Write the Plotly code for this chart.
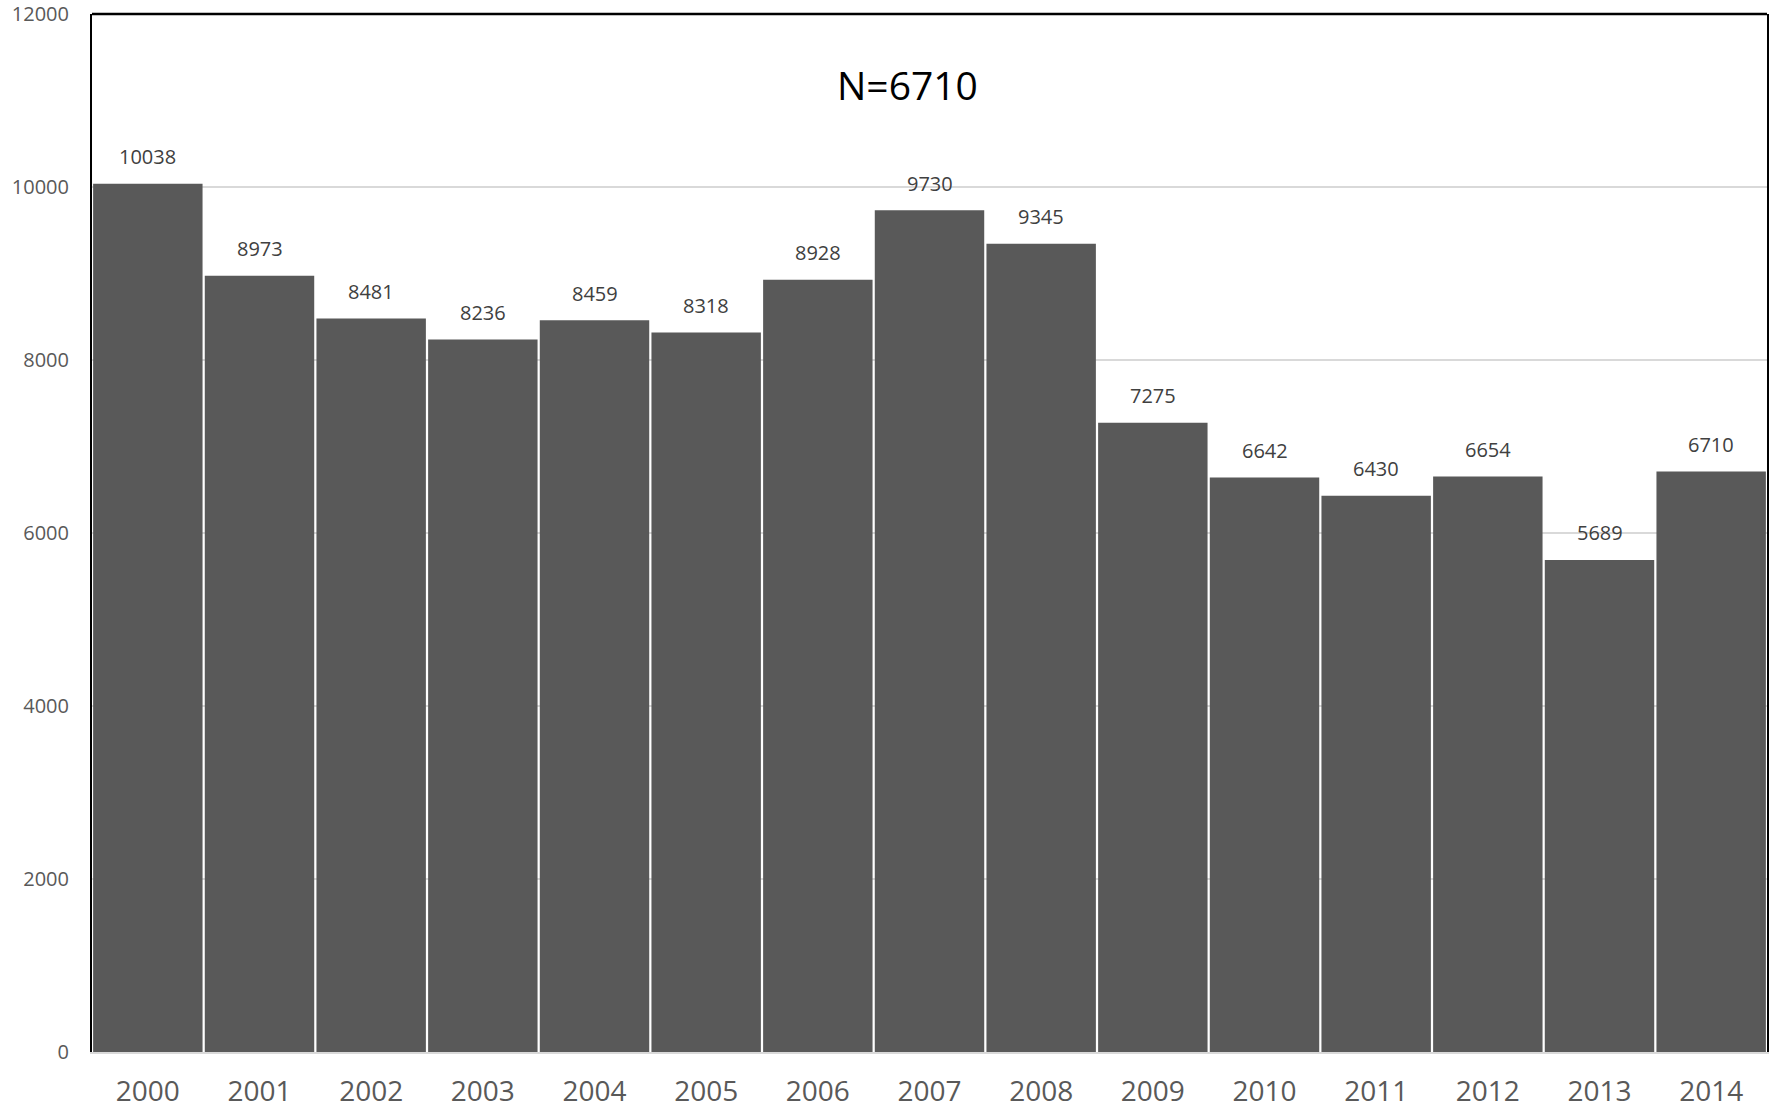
import plotly.graph_objects as go

years = ["2000", "2001", "2002", "2003", "2004", "2005", "2006", "2007",
         "2008", "2009", "2010", "2011", "2012", "2013", "2014"]
counts = [10038, 8973, 8481, 8236, 8459, 8318, 8928, 9730,
          9345, 7275, 6642, 6430, 6654, 5689, 6710]
y_ticks = [0, 2000, 4000, 6000, 8000, 10000, 12000]
title_text = "N=6710"

FONT = "Open Sans, Liberation Sans, sans-serif"

fig = go.Figure()
fig.add_trace(go.Bar(
    x=years, y=counts,
    marker=dict(color="#595959", line=dict(width=0)),
    hoverinfo="x+y",
))

for i, v in enumerate(counts):
    fig.add_annotation(x=i, y=v, xref="x", yref="y", text=str(v), showarrow=False,
                       yshift=27, font=dict(family=FONT, size=20, color="#404040"))

fig.add_annotation(x=0.4866, y=0.9316, xref="paper", yref="paper", text=title_text,
                   showarrow=False, yanchor="middle",
                   font=dict(family=FONT, size=39, color="#000000"))

fig.add_shape(type="line", xref="paper", yref="paper", x0=0, x1=1, y0=1, y1=1,
              line=dict(color="#000000", width=2.5))

fig.update_layout(
    width=1777, height=1110,
    margin=dict(l=92, r=10, t=14, b=58),
    paper_bgcolor="white", plot_bgcolor="white",
    bargap=0.02,
    showlegend=False,
    xaxis=dict(
        type="category",
        range=[-0.5, len(years) - 0.5],
        automargin=False,
        showgrid=False,
        showline=True, linecolor="#d9d9d9", linewidth=2,
        tickfont=dict(family=FONT, size=28, color="#595959"),
        ticks="", ticklabelstandoff=13,
    ),
    yaxis=dict(
        range=[0, 12000],
        automargin=False,
        tickvals=y_ticks,
        ticktext=[str(t) for t in y_ticks],
        showgrid=True, gridcolor="#d9d9d9", gridwidth=2,
        showline=True, linecolor="#000000", linewidth=2, mirror=True,
        zeroline=False,
        tickfont=dict(family=FONT, size=20, color="#595959"),
        ticks="", ticklabelstandoff=17,
    ),
)

fig.write_html("out.html",
               config={"displayModeBar": False},
               post_script="document.body.style.margin='0';document.body.style.overflow='hidden';")
